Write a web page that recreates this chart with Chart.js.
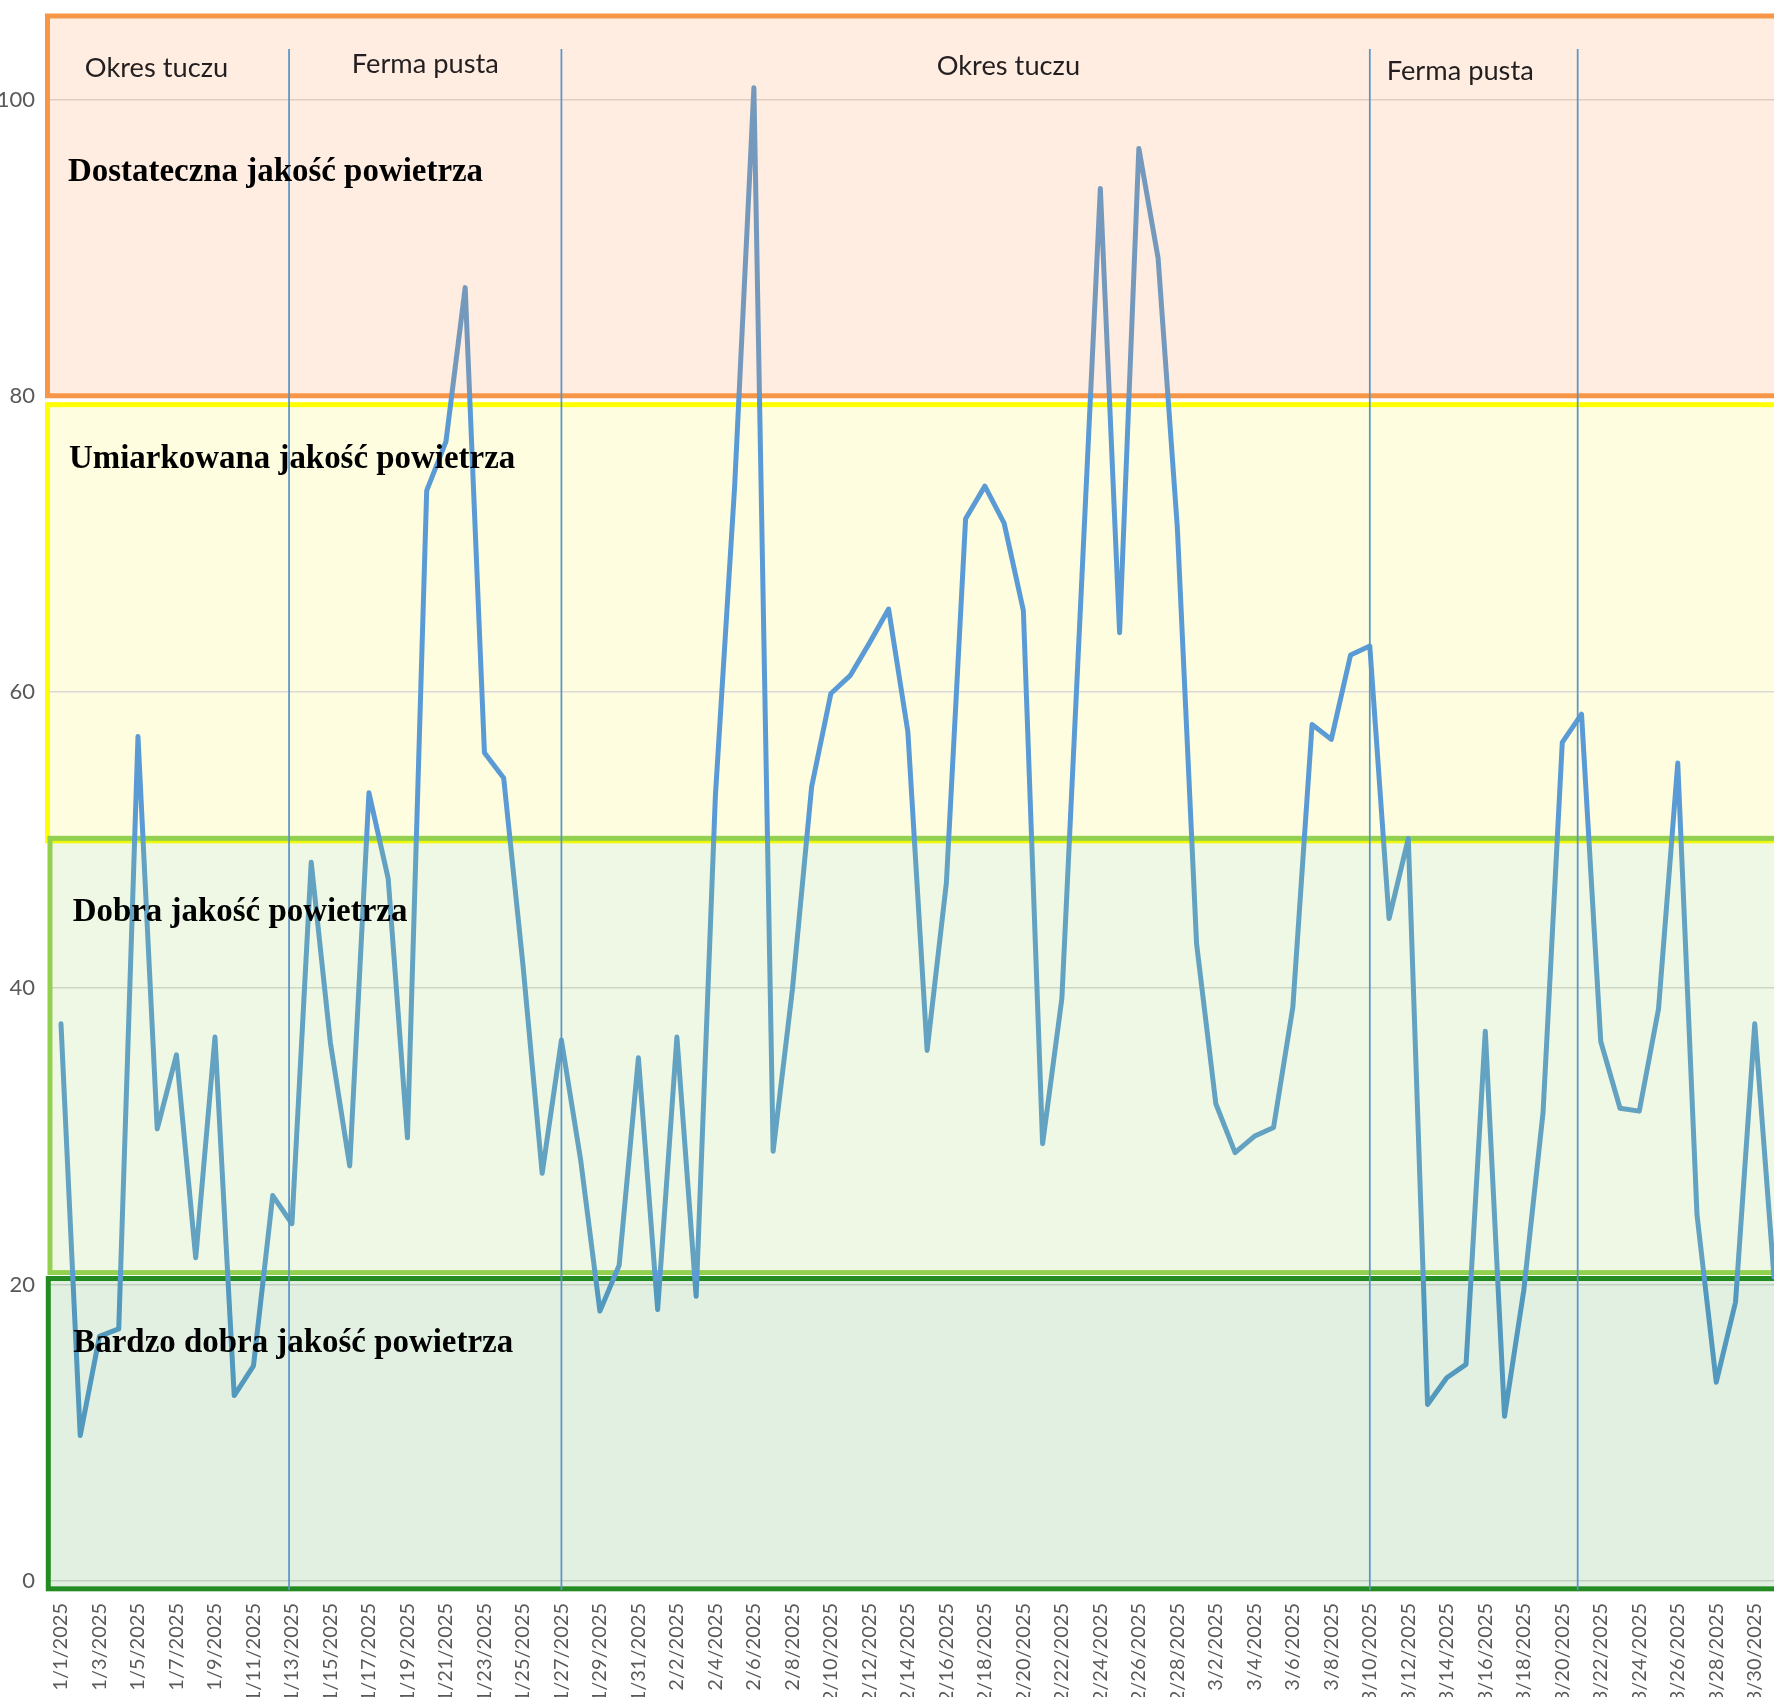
<!DOCTYPE html>
<html><head><meta charset="utf-8">
<script src="https://cdn.jsdelivr.net/npm/chart.js@4.4.1/dist/chart.umd.min.js"></script>
<style>html,body{margin:0;padding:0;background:#fff;overflow:hidden}canvas{display:block}</style>
</head><body>
<canvas id="c" width="1774" height="1697"></canvas>
<script>
const dates = ['1/1/2025','1/2/2025','1/3/2025','1/4/2025','1/5/2025','1/6/2025','1/7/2025','1/8/2025','1/9/2025','1/10/2025',
'1/11/2025','1/12/2025','1/13/2025','1/14/2025','1/15/2025','1/16/2025','1/17/2025','1/18/2025','1/19/2025','1/20/2025',
'1/21/2025','1/22/2025','1/23/2025','1/24/2025','1/25/2025','1/26/2025','1/27/2025','1/28/2025','1/29/2025','1/30/2025','1/31/2025',
'2/1/2025','2/2/2025','2/3/2025','2/4/2025','2/5/2025','2/6/2025','2/7/2025','2/8/2025','2/9/2025','2/10/2025',
'2/11/2025','2/12/2025','2/13/2025','2/14/2025','2/15/2025','2/16/2025','2/17/2025','2/18/2025','2/19/2025','2/20/2025',
'2/21/2025','2/22/2025','2/23/2025','2/24/2025','2/25/2025','2/26/2025','2/27/2025','2/28/2025',
'3/1/2025','3/2/2025','3/3/2025','3/4/2025','3/5/2025','3/6/2025','3/7/2025','3/8/2025','3/9/2025','3/10/2025',
'3/11/2025','3/12/2025','3/13/2025','3/14/2025','3/15/2025','3/16/2025','3/17/2025','3/18/2025','3/19/2025','3/20/2025',
'3/21/2025','3/22/2025','3/23/2025','3/24/2025','3/25/2025','3/26/2025','3/27/2025','3/28/2025','3/29/2025','3/30/2025','3/31/2025'];

const airQuality = [37.6, 9.8, 16.5, 17.0, 57.0, 30.5, 35.5, 21.8, 36.7, 12.5,
14.5, 26.0, 24.1, 48.5, 36.3, 28.0, 53.2, 47.4, 29.9, 73.6,
76.9, 87.3, 55.9, 54.2, 41.6, 27.5, 36.5, 28.4, 18.2, 21.3, 35.3,
18.3, 36.7, 19.2, 53.0, 73.9, 100.8, 29.0, 39.9, 53.6, 59.9,
61.1, 63.3, 65.6, 57.3, 35.8, 47.1, 71.7, 73.9, 71.4, 65.5,
29.5, 39.3, 66.6, 94.0, 64.0, 96.7, 89.3, 71.1,
43.0, 32.2, 28.9, 30.0, 30.6, 38.7, 57.8, 56.8, 62.5, 63.1,
44.7, 50.1, 11.9, 13.7, 14.6, 37.1, 11.1, 19.6, 31.6, 56.6,
58.5, 36.4, 31.9, 31.7, 38.6, 55.2, 24.7, 13.4, 18.8, 37.6, 20.5];

const yTickValues = [0, 20, 40, 60, 80, 100];
const xTickIndices = dates.map((d, i) => i).filter(i => i % 2 === 0);

const bandNames = ['Dostateczna jakość powietrza', 'Umiarkowana jakość powietrza', 'Dobra jakość powietrza', 'Bardzo dobra jakość powietrza'];
const periodNames = ['Okres tuczu', 'Ferma pusta', 'Okres tuczu', 'Ferma pusta'];
const periodSeparators = [11.85, 26.0, 68.0, 78.8];

// styling / placement of decorations
const bandStyle = [
  {top: 105.64, bottom: 80.0,  left: 47.5, stroke: '#F79646', fill: 'rgba(247,150,70,0.17)', front: true},
  {top: 79.4,  bottom: 49.95, left: 47.5, stroke: '#FFFF00', fill: '#FEFDDF', front: false},
  {top: 50.12, bottom: 20.8,  left: 50,   stroke: '#92D050', fill: 'rgba(146,208,80,0.15)', front: true},
  {top: 20.4,  bottom: -0.55, left: 48.3, stroke: '#228B22', fill: 'rgba(34,139,34,0.13)', front: true}
];
const bandTitlePos = [{x: 0.364, y: 94.5}, {x: 0.416, y: 75.12}, {x: 0.608, y: 44.54}, {x: 0.639, y: 15.46}];
const periodPos = [{x: 1.24, y: 101.5}, {x: 15.11, y: 101.76}, {x: 45.5, y: 101.68}, {x: 68.88, y: 101.32}];

function rectFor(c, b) {
  const ca = c.chartArea;
  const y1 = c.scales.y.getPixelForValue(b.top);
  const y2 = c.scales.y.getPixelForValue(b.bottom);
  return {x: b.left, y: y1, w: ca.right + 30 - b.left, h: y2 - y1};
}

const decor = {
  id: 'decor',
  beforeDraw(c) {
    const ctx = c.ctx;
    ctx.save();
    ctx.fillStyle = '#fff';
    ctx.fillRect(0, 0, c.width, c.height);
    bandStyle.forEach(b => {
      if (!b.front) {
        const r = rectFor(c, b);
        ctx.fillStyle = b.fill;
        ctx.fillRect(r.x, r.y, r.w, r.h);
      }
    });
    ctx.restore();
  },
  beforeDatasetsDraw(c) {
    const ctx = c.ctx;
    ctx.save();
    ctx.lineWidth = 5;
    bandStyle.forEach(b => {
      const r = rectFor(c, b);
      ctx.strokeStyle = b.stroke;
      ctx.strokeRect(r.x, r.y, r.w, r.h);
    });
    ctx.restore();
  },
  afterDatasetsDraw(c) {
    const ctx = c.ctx;
    const xs = c.scales.x, ys = c.scales.y;
    ctx.save();
    bandStyle.forEach(b => {
      if (b.front) {
        const r = rectFor(c, b);
        ctx.fillStyle = b.fill;
        ctx.fillRect(r.x + 2.5, r.y + 2.5, r.w - 5, r.h - 5);
      }
    });
    // period separators
    ctx.strokeStyle = '#5A95C8';
    ctx.lineWidth = 1.75;
    periodSeparators.forEach(p => {
      const x = xs.getPixelForValue(p);
      ctx.beginPath();
      ctx.moveTo(x, ys.getPixelForValue(103.42));
      ctx.lineTo(x, c.chartArea.bottom);
      ctx.stroke();
    });
    // period labels
    ctx.font = '30px Lato';
    let s = 30 * 147 / ctx.measureText('Ferma pusta').width;
    ctx.font = s.toFixed(2) + 'px Lato';
    ctx.fillStyle = '#231F20';
    ctx.textBaseline = 'alphabetic';
    ctx.textAlign = 'left';
    periodNames.forEach((t, i) => {
      ctx.fillText(t, xs.getPixelForValue(periodPos[i].x), ys.getPixelForValue(periodPos[i].y));
    });
    // band titles
    ctx.font = 'bold 32px "Liberation Serif"';
    s = 32 * 440 / ctx.measureText(bandNames[3]).width;
    ctx.font = 'bold ' + s.toFixed(2) + 'px "Liberation Serif"';
    ctx.fillStyle = '#000';
    bandNames.forEach((t, i) => {
      ctx.fillText(t, xs.getPixelForValue(bandTitlePos[i].x), ys.getPixelForValue(bandTitlePos[i].y));
    });
    ctx.restore();
  }
};

new Chart(document.getElementById('c'), {
  type: 'line',
  data: {
    datasets: [{
      data: airQuality.map((v, i) => ({x: i, y: v})),
      borderColor: '#5B9BD5',
      borderWidth: 5,
      pointRadius: 0,
      tension: 0,
      borderJoinStyle: 'round',
      borderCapStyle: 'round',
      fill: false
    }]
  },
  options: {
    responsive: false,
    animation: false,
    devicePixelRatio: 1,
    layout: {padding: {top: 16, left: 0, right: 0, bottom: 0}},
    plugins: {legend: {display: false}, tooltip: {enabled: false}},
    scales: {
      x: {
        type: 'linear',
        min: -0.675,
        max: 89,
        afterBuildTicks: s => { s.ticks = xTickIndices.map(v => ({value: v})); },
        afterFit: s => { s.height = 107; s.paddingLeft = 0; s.paddingRight = 0; },
        ticks: {
          autoSkip: false,
          minRotation: 90,
          maxRotation: 90,
          padding: 5,
          color: '#595959',
          font: {family: 'Lato', size: 20},
          callback: v => dates[v]
        },
        grid: {display: false},
        border: {display: false}
      },
      y: {
        min: -0.63,
        max: 105.64,
        afterBuildTicks: s => { s.ticks = yTickValues.map(v => ({value: v})); },
        afterFit: s => { s.width = 48; s.paddingTop = 0; s.paddingBottom = 0; },
        ticks: {
          padding: 13,
          color: '#595959',
          font: {family: 'Lato', size: 22}
        },
        grid: {color: '#D9D9D9', lineWidth: 1.5, drawTicks: false},
        border: {display: false}
      }
    }
  },
  plugins: [decor]
});
</script>
</body></html>
